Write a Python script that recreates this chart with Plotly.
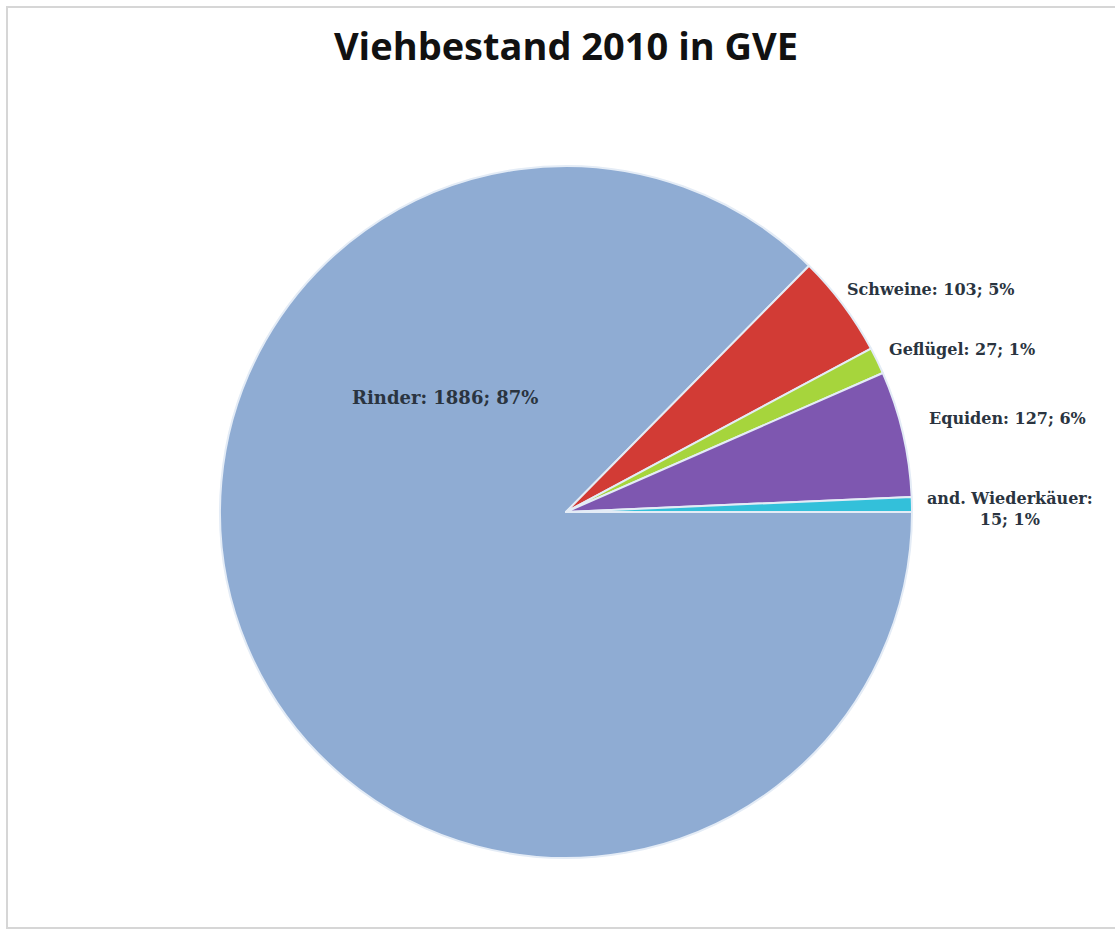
import plotly.graph_objects as go

categories = ["Rinder", "Schweine", "Geflügel", "Equiden", "and. Wiederkäuer"]
values = [1886, 103, 27, 127, 15]
colors = ["#8FACD3", "#D23B35", "#A6D53C", "#7E57B0", "#33C0DA"]
title_text = "Viehbestand 2010 in GVE"

W, H = 1115, 932
total = sum(values)
pcts = [round(v / total * 100) for v in values]

fig = go.Figure()
fig.add_trace(go.Pie(
    labels=categories,
    values=values,
    sort=False,
    direction="clockwise",
    rotation=90,
    marker=dict(colors=colors, line=dict(color="#E4ECF6", width=2)),
    textinfo="none",
    hoverinfo="label+value+percent",
    showlegend=False,
    domain=dict(x=[26 / W, 1106 / W], y=[1 - 858 / H, 1 - 166 / H]),
))

# label positions (pixel centres) for each category
label_pos = {
    "Rinder": (445, 397),
    "Schweine": (930, 289),
    "Geflügel": (962, 350),
    "Equiden": (1007, 419),
    "and. Wiederkäuer": (1010, 509),
}
annotations = []
for cat, v, p in zip(categories, values, pcts):
    if cat == "and. Wiederkäuer":
        txt = f"<b>{cat}:<br>{v}; {p}%</b>"
    else:
        txt = f"<b>{cat}: {v}; {p}%</b>"
    px, py = label_pos[cat]
    annotations.append(dict(
        x=px / W, y=1 - py / H, xref="paper", yref="paper",
        text=txt, showarrow=False, xanchor="center", yanchor="middle",
        font=dict(family="DejaVu Serif", size=18 if cat == "Rinder" else 16,
                  color="#2A3440"),
    ))

fig.update_layout(
    width=W, height=H,
    margin=dict(l=0, r=0, t=0, b=0),
    paper_bgcolor="white",
    plot_bgcolor="white",
    title=dict(text=f"<b>{title_text}</b>", x=566 / W, xanchor="center",
               y=1 - 47 / H, yanchor="middle",
               font=dict(family="Open Sans", size=38, color="#111111")),
    annotations=annotations,
    shapes=[dict(type="rect", xref="paper", yref="paper",
                 x0=7 / W, x1=1.01, y0=1 - 928 / H, y1=1 - 7 / H,
                 line=dict(color="#D6D6D6", width=2))],
)

fig.write_html("out.html")
